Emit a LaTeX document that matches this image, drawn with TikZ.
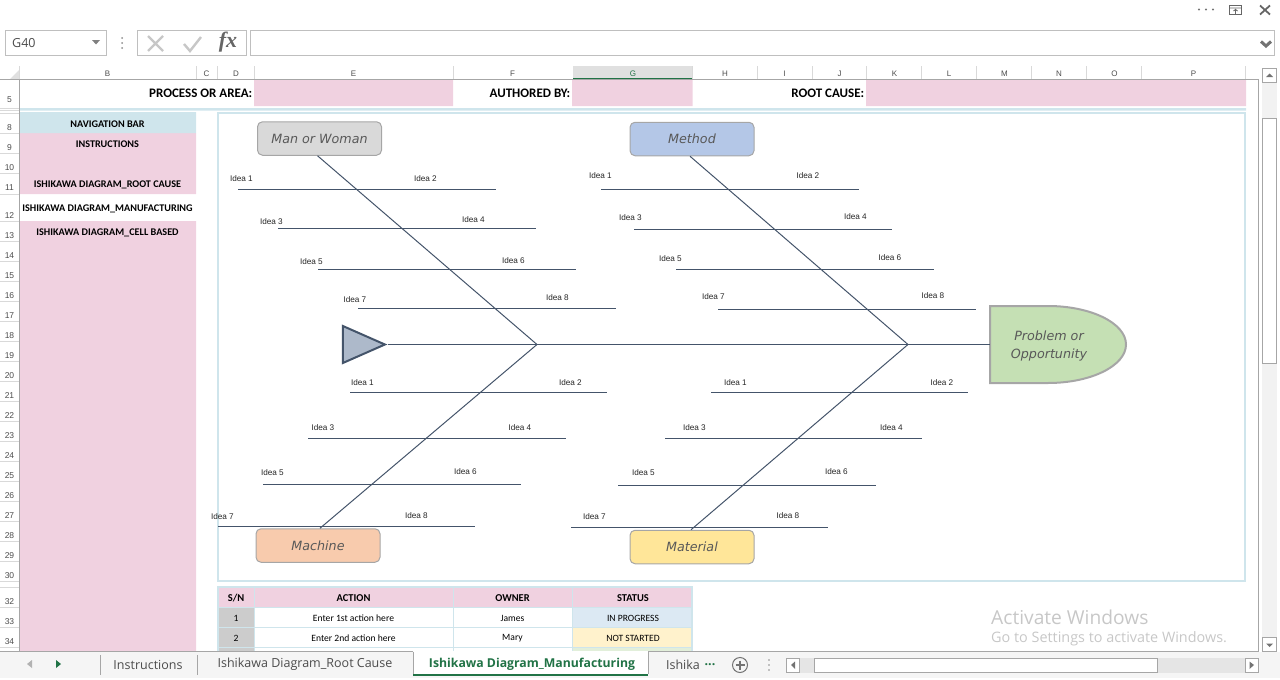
\documentclass[tikz,border=0pt]{standalone}
\usepackage{fontspec}
\setmainfont{Carlito}
\newfontfamily\ideafont{Liberation Sans}
\newfontfamily\shapefont{DejaVu Sans}
\newfontfamily\uifont{Open Sans}
\newfontfamily\fxfont{Liberation Serif}
\usetikzlibrary{shapes.geometric}
\definecolor{pinkcell}{HTML}{F0D1E0}
\definecolor{bluecell}{HTML}{CFE5EC}
\definecolor{bone}{HTML}{44546A}
\definecolor{chrome}{HTML}{A6A6A6}
\definecolor{tabgreen}{HTML}{217346}
\definecolor{methodfill}{HTML}{B4C7E7}
\definecolor{machinefill}{HTML}{F8CBAD}
\definecolor{materialfill}{HTML}{FFE699}
\definecolor{headfill}{HTML}{C5E0B4}
\definecolor{tailfill}{HTML}{ADB9CA}
\definecolor{progressfill}{HTML}{DCE9F3}
\definecolor{notstartedfill}{HTML}{FFF2CC}
\definecolor{donefill}{HTML}{E2EFDA}

\begin{document}
\begin{tikzpicture}[x=1pt,y=-1pt,
  rownum/.style={font=\ideafont\fontsize{8.5}{9}\selectfont,text=black!70,inner sep=0,yshift=-0.8pt},
  colname/.style={font=\ideafont\fontsize{8}{9}\selectfont,text=black!70,inner sep=0,yshift=-0.8pt},
  title/.style={font=\bfseries\fontsize{13}{14}\selectfont,anchor=east,inner sep=0,xshift=1pt},
  navitem/.style={font=\bfseries\fontsize{10.2}{11}\selectfont,inner sep=0,yshift=-0.6pt},
  idea/.style={font=\ideafont\fontsize{8.2}{9}\selectfont,text=black!85,inner sep=0,yshift=-0.9pt,xshift=0.4pt},
  cause/.style={rectangle,rounded corners=5pt,draw=chrome,line width=1pt,minimum width=124pt,minimum height=33.5pt,
    font=\shapefont\itshape\fontsize{12.7}{14}\selectfont,text=black!65,inner sep=0},
  tablehead/.style={font=\bfseries\fontsize{10.5}{11}\selectfont,inner sep=0,yshift=-0.6pt},
  tablecell/.style={font=\fontsize{9.6}{10}\selectfont,inner sep=0},
  tabname/.style={font=\uifont\fontsize{12.5}{13}\selectfont,text=black!70,inner sep=0},
  rib/.style={draw=bone,line width=1pt},
  spine/.style={draw=bone,line width=1pt},
  frameline/.style={draw=bluecell,line width=2pt},
  button/.style={draw=chrome,fill=white,line width=1pt}]

\useasboundingbox (0,0) rectangle (1280,680);

\draw[draw=black!25,line width=1pt]
      (5.5,30.5) rectangle (106.5,55) (137.5,30.5) rectangle (246.5,55) (250.5,30.5) rectangle (1274.5,55);
\draw (12,43) node[anchor=west,inner sep=0,font=\uifont\fontsize{12.5}{13}\selectfont,text=black!70] (namebox) {G40}
      (228,42.5) node[inner sep=0,font=\fxfont\itshape\bfseries\fontsize{22}{22}\selectfont,text=black!60] (fxmark) {fx};
\fill[black!50] (92,40) -- (100,40) -- (96,44.5) -- cycle;
\fill[black!45] (122,38) circle (1pt) (122,43) circle (1pt) (122,48) circle (1pt);
\draw[black!22,line width=2.4pt] (148,36) -- (163,51) (163,36) -- (148,51) (184,44) -- (190,51) -- (201,37);
\draw[black!55,line width=3pt] (1261,41.5) -- (1266,46) -- (1271,41.5);
\fill[black!55] (1199,9.5) circle (1.2pt) (1206,9.5) circle (1.2pt) (1213,9.5) circle (1.2pt);
\draw[black!60,line width=0.9pt] (1229.5,5.5) rectangle (1241.5,14.5) (1229.5,8) -- (1241.5,8) (1235.5,14) -- (1235.5,9.5) (1233.5,11) -- (1235.5,9.5) -- (1237.5,11);
\draw[black!60,line width=1.8pt] (1260,5.5) -- (1270,14.5) (1270,5.5) -- (1260,14.5);

\fill[black!12] (10,79) -- (19,70) -- (19,79) -- cycle;
\fill[black!12] (572.5,66) rectangle (692.5,79);
\fill[tabgreen] (572.5,78) rectangle (692.5,80);
\draw[black!15,line width=0.8pt]
      (19.5,66) -- (19.5,79) (196,66) -- (196,79) (217.5,66) -- (217.5,79) (254,66) -- (254,79) (453,66) -- (453,79)
      (692.5,66) -- (692.5,79) (757,66) -- (757,79) (812,66) -- (812,79) (866.5,66) -- (866.5,79) (921.5,66) -- (921.5,79)
      (976.5,66) -- (976.5,79) (1031.5,66) -- (1031.5,79) (1086.5,66) -- (1086.5,79) (1141.5,66) -- (1141.5,79) (1245.5,66) -- (1245.5,79)
      (0,108) -- (19,108) (0,110) -- (19,110) (0,113) -- (19,113) (0,133) -- (19,133) (0,153) -- (19,153) (0,173) -- (19,173)
      (0,194) -- (19,194) (0,221) -- (19,221) (0,241) -- (19,241) (0,261) -- (19,261) (0,281) -- (19,281) (0,301) -- (19,301)
      (0,321) -- (19,321) (0,341) -- (19,341) (0,361) -- (19,361) (0,381) -- (19,381) (0,401) -- (19,401) (0,421) -- (19,421)
      (0,441) -- (19,441) (0,461) -- (19,461) (0,481) -- (19,481) (0,501) -- (19,501) (0,521) -- (19,521) (0,541) -- (19,541)
      (0,561) -- (19,561) (0,581) -- (19,581) (0,587) -- (19,587) (0,607) -- (19,607) (0,627) -- (19,627) (0,647) -- (19,647);
\draw (107.5,73) node[colname] (colb) {B} (206.5,73) node[colname] (colc) {C} (236,73) node[colname] (cold) {D}
      (353.5,73) node[colname] (cole) {E} (512.5,73) node[colname] (colf) {F} (633,73) node[colname,text=tabgreen] (colg) {G}
      (725,73) node[colname] (colh) {H} (784.5,73) node[colname] (coli) {I} (839.5,73) node[colname] (colj) {J}
      (894.5,73) node[colname] (colk) {K} (949,73) node[colname] (coll) {L} (1004.5,73) node[colname] (colm) {M}
      (1059,73) node[colname] (coln) {N} (1114.5,73) node[colname] (colo) {O} (1193.5,73) node[colname] (colp) {P};
\draw (9.5,99) node[rownum] (row5) {5} (9.5,127) node[rownum] (row8) {8} (9.5,147) node[rownum] (row9) {9}
      (9.5,167) node[rownum] (row10) {10} (9.5,187) node[rownum] (row11) {11} (9.5,215) node[rownum] (row12) {12}
      (9.5,235) node[rownum] (row13) {13} (9.5,255) node[rownum] (row14) {14} (9.5,275) node[rownum] (row15) {15}
      (9.5,295) node[rownum] (row16) {16} (9.5,315) node[rownum] (row17) {17} (9.5,335) node[rownum] (row18) {18}
      (9.5,355) node[rownum] (row19) {19} (9.5,375) node[rownum] (row20) {20} (9.5,395) node[rownum] (row21) {21}
      (9.5,415) node[rownum] (row22) {22} (9.5,435) node[rownum] (row23) {23} (9.5,455) node[rownum] (row24) {24}
      (9.5,475) node[rownum] (row25) {25} (9.5,495) node[rownum] (row26) {26} (9.5,515) node[rownum] (row27) {27}
      (9.5,535) node[rownum] (row28) {28} (9.5,555) node[rownum] (row29) {29} (9.5,575) node[rownum] (row30) {30}
      (9.5,601) node[rownum] (row32) {32} (9.5,621) node[rownum] (row33) {33} (9.5,641) node[rownum] (row34) {34};

\fill[pinkcell] (254,80) rectangle (453,106) (572,80) rectangle (692.5,106) (866,80) rectangle (1246,106);
\fill[pinkcell] (20,133) rectangle (196,194) (20,221) rectangle (196,651);
\fill[bluecell] (20,113) rectangle (196,133) (20,108) rectangle (1246,110.7) (20,112) rectangle (196,114);
\draw (251.5,93) node[title] (process) {PROCESS OR AREA:} (569.5,93) node[title] (author) {AUTHORED BY:}
      (863.5,93) node[title] (rootcause) {ROOT CAUSE:};
\draw (107.5,123.5) node[navitem] (nav) {NAVIGATION BAR} (107.5,144) node[navitem] (instr) {INSTRUCTIONS}
      (107.5,184) node[navitem] (ish1) {ISHIKAWA DIAGRAM\_ROOT CAUSE} (107.5,208) node[navitem] (ish2) {ISHIKAWA DIAGRAM\_MANUFACTURING}
      (107.5,232) node[navitem] (ish3) {ISHIKAWA DIAGRAM\_CELL BASED};

\draw[frameline] (217.5,113) rectangle (1245,581);

\draw (319.5,138.5) node[cause,fill=black!15] (man) {Man or Woman}
      (692,139) node[cause,fill=methodfill] (method) {Method}
      (318,545.5) node[cause,fill=machinefill] (machine) {Machine}
      (692,547) node[cause,fill=materialfill] (material) {Material};
\draw[draw=chrome,line width=2pt,fill=headfill]
      (990,306) -- (1048,306) .. controls (1091,306) and (1126,323.2) .. (1126,344.5)
      .. controls (1126,365.8) and (1091,383) .. (1048,383) -- (990,383) -- cycle;
\draw (1049,345.5) node[align=center,font=\shapefont\itshape\fontsize{12.7}{18}\selectfont,text=black!65,inner sep=0] (problem) {Problem or\\Opportunity};
\coordinate (headw) at (990,344.5);
\coordinate (jointa) at (537,344.5);
\coordinate (jointb) at (908,344.5);
\node[isosceles triangle,isosceles triangle stretches,shape border rotate=0,draw=bone,line width=2pt,fill=tailfill,
      minimum width=37pt,minimum height=42pt,inner sep=0,anchor=apex] (tail) at (387.5,344.5) {};

\draw[spine] (tail.apex) -- (jointa) -- (jointb) -- (headw);
\draw[spine] ([xshift=-2pt]man.south) -- (jointa);
\draw[spine] ([xshift=-2pt]method.south) -- (jointb);
\draw[spine] ([xshift=2pt]machine.north) -- (jointa);
\draw[spine] ([xshift=-1pt]material.north) -- (jointb);

\path (238,189.5) coordinate (ula) (496,189.5) coordinate (ulb) (278,228.5) coordinate (ulc) (536,228.5) coordinate (uld)
      (318,269.5) coordinate (ule) (576,269.5) coordinate (ulf) (358,308.5) coordinate (ulg) (616,308.5) coordinate (ulh)
      (601,189.5) coordinate (ura) (859,189.5) coordinate (urb) (634,229.5) coordinate (urc) (892,229.5) coordinate (urd)
      (676,269.5) coordinate (ure) (934,269.5) coordinate (urf) (718,309.5) coordinate (urg) (976,309.5) coordinate (urh)
      (350,392.5) coordinate (lla) (607,392.5) coordinate (llb) (308,438.5) coordinate (llc) (566,438.5) coordinate (lld)
      (263,484.5) coordinate (lle) (521,484.5) coordinate (llf) (218,526.5) coordinate (llg) (475,526.5) coordinate (llh)
      (711,392.5) coordinate (lra) (968,392.5) coordinate (lrb) (665,438.5) coordinate (lrc) (922,438.5) coordinate (lrd)
      (618,485.5) coordinate (lre) (876,485.5) coordinate (lrf) (571,527.5) coordinate (lrg) (828,527.5) coordinate (lrh);
\draw[rib] (ula) -- (ulb) (ulc) -- (uld) (ule) -- (ulf) (ulg) -- (ulh)
      (ura) -- (urb) (urc) -- (urd) (ure) -- (urf) (urg) -- (urh)
      (lla) -- (llb) (llc) -- (lld) (lle) -- (llf) (llg) -- (llh)
      (lra) -- (lrb) (lrc) -- (lrd) (lre) -- (lrf) (lrg) -- (lrh);

\draw (241,178) node[idea] (ul1) {Idea 1} (425,178) node[idea] (ul2) {Idea 2}
      (271,221) node[idea] (ul3) {Idea 3} (473,219) node[idea] (ul4) {Idea 4}
      (311,261) node[idea] (ul5) {Idea 5} (513,260) node[idea] (ul6) {Idea 6}
      (354.5,299) node[idea] (ul7) {Idea 7} (557,297) node[idea] (ul8) {Idea 8};
\draw (600,175) node[idea] (ur1) {Idea 1} (807.5,175) node[idea] (ur2) {Idea 2}
      (630,217) node[idea] (ur3) {Idea 3} (855,216) node[idea] (ur4) {Idea 4}
      (670,258) node[idea] (ur5) {Idea 5} (889.5,257) node[idea] (ur6) {Idea 6}
      (713,296) node[idea] (ur7) {Idea 7} (932.5,295) node[idea] (ur8) {Idea 8};
\draw (362,382) node[idea] (ll1) {Idea 1} (570,382) node[idea] (ll2) {Idea 2}
      (322.5,427) node[idea] (ll3) {Idea 3} (519.5,427) node[idea] (ll4) {Idea 4}
      (272,472) node[idea] (ll5) {Idea 5} (465,471) node[idea] (ll6) {Idea 6}
      (222,516) node[idea] (ll7) {Idea 7} (416,515) node[idea] (ll8) {Idea 8};
\draw (735,382) node[idea] (lr1) {Idea 1} (941.5,382) node[idea] (lr2) {Idea 2}
      (694,427) node[idea] (lr3) {Idea 3} (891,427) node[idea] (lr4) {Idea 4}
      (643,472) node[idea] (lr5) {Idea 5} (836,471) node[idea] (lr6) {Idea 6}
      (594,516) node[idea] (lr7) {Idea 7} (787.5,515) node[idea] (lr8) {Idea 8};

\fill[pinkcell] (218,587) rectangle (692,607);
\fill[black!20] (218,608) rectangle (254,651);
\fill[progressfill] (572.5,608) rectangle (692,627);
\fill[notstartedfill] (572.5,628) rectangle (692,647);
\fill[donefill] (572.5,648) rectangle (692,651);
\draw[bluecell,line width=1pt] (254,587) -- (254,651) (453,587) -- (453,651) (572.5,587) -- (572.5,651)
      (218,607.5) -- (692,607.5) (218,627.5) -- (692,627.5) (218,647.5) -- (692,647.5);
\draw[bluecell,line width=2pt] (217.5,651) -- (217.5,587) -- (692,587) -- (692,651);
\draw (236,597.5) node[tablehead] (snhead) {S/N} (353.5,597.5) node[tablehead] (actionhead) {ACTION}
      (512.5,597.5) node[tablehead] (ownerhead) {OWNER} (633,597.5) node[tablehead] (statushead) {STATUS};
\draw (236,618) node[tablecell] (sn1) {1} (353.5,618) node[tablecell] (action1) {Enter 1st action here}
      (512.5,618) node[tablecell] (owner1) {James} (633,618) node[tablecell] (status1) {IN PROGRESS}
      (236,638) node[tablecell] (sn2) {2} (353.5,638) node[tablecell] (action2) {Enter 2nd action here}
      (512.5,638) node[tablecell] (owner2) {Mary} (633,638) node[tablecell] (status2) {NOT STARTED};

\draw (991,617) node[anchor=west,inner sep=0,font=\uifont\fontsize{19.2}{20}\selectfont,text=black!22] (activate) {Activate Windows}
      (991,639) node[anchor=west,inner sep=0,font=\uifont\fontsize{14.4}{15}\selectfont,text=black!22] (settings) {Go to Settings to activate Windows.};

\draw[chrome,line width=1pt] (0,79.5) -- (1258.5,79.5) (19.5,79.5) -- (19.5,651) (1258.5,79.5) -- (1258.5,651.5);
\fill[black!5] (1262,68) rectangle (1277,651);
\draw[button] (1262.5,68.5) rectangle (1276.5,82.5) (1262.5,118.5) rectangle (1276.5,363) (1262.5,637) rectangle (1276.5,651);
\fill[black!55] (1266,77) -- (1273,77) -- (1269.5,73.5) -- cycle (1266,643.5) -- (1273,643.5) -- (1269.5,647) -- cycle;

\fill[black!4] (0,652) rectangle (1280,678);
\fill[white] (413,651) rectangle (648,675);
\fill[tabgreen] (413,674) rectangle (648,676);
\draw[chrome,line width=1pt] (0,651.5) -- (413,651.5) (413,651.5) -- (413,674) (648,651.5) -- (648,674) (648,651.5) -- (1258.5,651.5)
      (100.5,655) -- (100.5,675) (197.5,655) -- (197.5,675);
\fill[black!30] (32,660) -- (32,668) -- (27,664) -- cycle;
\fill[tabgreen] (56,660) -- (56,668) -- (61,664) -- cycle;
\draw (148,664.5) node[tabname] (tabinstr) {Instructions} (305,664.5) node[tabname] (tabroot) {Ishikawa Diagram\_Root Cause}
      (532,664.5) node[tabname,font=\uifont\bfseries\fontsize{12.25}{13}\selectfont,text=tabgreen] (tabmanu) {Ishikawa Diagram\_Manufacturing}
      (683,664.5) node[tabname] (tabcut) {Ishika}
      (710,664.5) node[tabname,font=\uifont\bfseries\fontsize{12.5}{13}\selectfont,text=tabgreen] (tabmore) {...};
\draw[black!55,line width=1pt] (740,665) circle (7.5pt);
\draw[black!55,line width=1.6pt] (735.5,665) -- (744.5,665) (740,660.5) -- (740,669.5);
\fill[black!45] (769,660) circle (0.9pt) (769,665) circle (0.9pt) (769,670) circle (0.9pt);
\fill[black!10] (786,658) rectangle (1258,672.5);
\draw[button] (786,658) rectangle (799.5,672.5) (814.5,658) rectangle (1157,672.5) (1245,658) rectangle (1258.5,672.5);
\fill[black!55] (795,661.5) -- (795,669) -- (791,665) -- cycle (1249.5,661.5) -- (1249.5,669) -- (1254,665) -- cycle;
\end{tikzpicture}
\end{document}
